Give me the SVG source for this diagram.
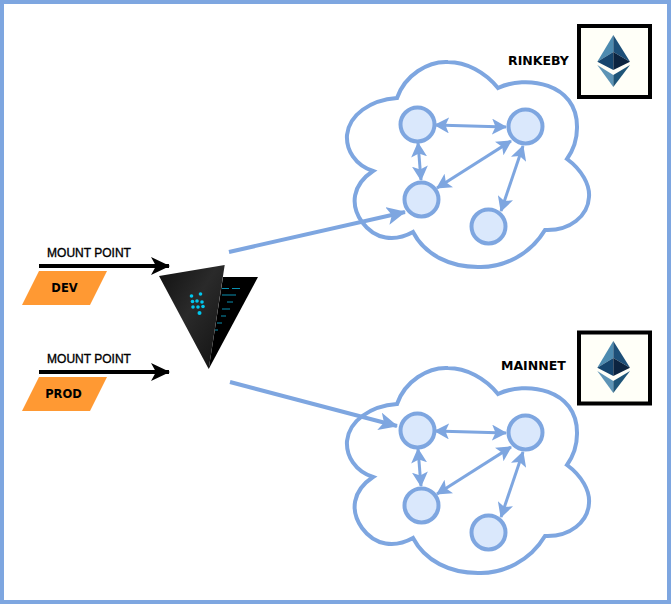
<svg xmlns="http://www.w3.org/2000/svg" width="671" height="604" viewBox="0 0 671 604">
<style>
.b{fill:none;stroke:#7ea6e0;stroke-width:4}
.c{fill:none;stroke:#7ea6e0;stroke-width:4}
.n{fill:#dae8fc;stroke:#7ea6e0;stroke-width:4}
.e{fill:none;stroke:#7ea6e0;stroke-width:3;marker-start:url(#hs);marker-end:url(#he)}
.l{fill:none;stroke:#7ea6e0;stroke-width:4;marker-end:url(#he2)}
.k{fill:none;stroke:#000;stroke-width:4;marker-end:url(#ka)}
.m{font:12px "Liberation Sans",Arial,sans-serif;fill:#000;stroke:#000;stroke-width:.35}
.t{font:bold 11.500px "DejaVu Sans",Verdana,sans-serif;fill:#000}
.w{font:bold 12.500px "DejaVu Sans",Verdana,sans-serif;fill:#000}
.o{fill:#ff9933}
.x{fill:#fffff8;stroke:#000;stroke-width:4}
.d{fill:#00c8ef}
.s{stroke:#0a8fb0;stroke-width:1.100}
</style>
<defs>
<marker id="he" viewBox="0 0 15 16" refX="14" refY="8" markerWidth="15" markerHeight="16" markerUnits="userSpaceOnUse" orient="auto"><path d="M0 0L15 8L0 16L3.500 8Z" fill="#7ea6e0"/></marker>
<marker id="hs" viewBox="0 0 15 16" refX="1" refY="8" markerWidth="15" markerHeight="16" markerUnits="userSpaceOnUse" orient="auto"><path d="M15 0L0 8L15 16L11.500 8Z" fill="#7ea6e0"/></marker>
<marker id="he2" viewBox="0 0 19 18" refX="18" refY="9" markerWidth="19" markerHeight="18" markerUnits="userSpaceOnUse" orient="auto"><path d="M0 0L19 9L0 18L4.500 9Z" fill="#7ea6e0"/></marker>
<marker id="ka" viewBox="0 0 19 18" refX="18" refY="9" markerWidth="19" markerHeight="18" markerUnits="userSpaceOnUse" orient="auto"><path d="M0 0L19 9L0 18L5 9Z" fill="#000"/></marker>
<linearGradient id="v1" x1="0" y1="0" x2="1" y2="1"><stop offset="0" stop-color="#111"/><stop offset=".45" stop-color="#2a2a2a"/><stop offset="1" stop-color="#111"/></linearGradient>
<path id="cloud" d="M397 98C405 75 428 61 448 62C466 62 485 72 498 88C525 75 578 82 577 128C577 138 574 149 567 159C582 170 590 185 589 197C588 216 570 231 545 230C530 255 503 268 478 267C450 267 425 255 413 232C395 242 375 240 362 222C350 205 352 185 373 171C355 165 346 150 347 135C349 115 370 100 397 98Z"/>
<g id="eth">
<path d="M613.300 35V52L597.300 61.700Z" fill="#4d8bb0"/>
<path d="M613.300 35V52L630 61.700Z" fill="#1d4f78"/>
<path d="M597.300 61.700L613.300 52V70Z" fill="#15456e"/>
<path d="M630 61.700L613.300 52V70Z" fill="#0c2440"/>
<path d="M597.300 65L613.300 75V87Z" fill="#5d94b6"/>
<path d="M630 65L613.300 75V87Z" fill="#1f5578"/>
</g>
</defs>
<rect id="frame" x="2" y="2" width="667" height="600" class="b"/>
<g id="cloud-rinkeby"><use href="#cloud" class="c"/></g>
<g id="cloud-mainnet"><use href="#cloud" y="306" class="c"/></g>
<g id="connectors">
<path class="l" d="M229 252L405 212"/>
<path class="l" d="M230 382L397 426"/>
<path class="k" d="M39 266H169"/>
<path class="k" d="M39 372H169"/>
<path class="e" d="M435 125L506 127"/>
<path class="e" d="M418 143L421 180"/>
<path class="e" d="M437 188L511 141"/>
<path class="e" d="M523 146L501 211"/>
<path class="e" d="M435 431L506 433"/>
<path class="e" d="M418 449L421 486"/>
<path class="e" d="M437 494L511 447"/>
<path class="e" d="M523 452L501 517"/>
</g>
<g id="n1"><circle cx="417.500" cy="124.500" r="17" class="n"/></g>
<g id="n2"><circle cx="525.500" cy="126.500" r="17" class="n"/></g>
<g id="n3"><circle cx="421.500" cy="199.500" r="17" class="n"/></g>
<g id="n4"><circle cx="488.500" cy="226.500" r="17" class="n"/></g>
<g id="n5"><circle cx="417.500" cy="430.500" r="17" class="n"/></g>
<g id="n6"><circle cx="525.500" cy="432.500" r="17" class="n"/></g>
<g id="n7"><circle cx="421.500" cy="505.500" r="17" class="n"/></g>
<g id="n8"><circle cx="488.500" cy="532.500" r="17" class="n"/></g>
<g id="vault">
<path d="M223 277H258L208.700 369Z" fill="#000"/>
<path d="M159 276L224.700 265L208.700 369Z" fill="url(#v1)"/>
<g class="d"><circle cx="191.500" cy="296" r="1.800"/><circle cx="200.500" cy="294" r="1.800"/><circle cx="192.500" cy="301.500" r="1.800"/><circle cx="197" cy="301" r="1.800"/><circle cx="202" cy="302" r="1.800"/><circle cx="193" cy="307" r="1.800"/><circle cx="198" cy="307" r="1.800"/><circle cx="203" cy="306.500" r="1.800"/><circle cx="199.500" cy="313" r="2"/></g>
<path class="s" d="M222 288.500H229M232 288.500H240M222 295H236M227 302H233M222 309H230M221 316H226M217 323H222M215 330H218"/>
</g>
<g id="dev"><path d="M22 305L39 271H107L90 305Z" class="o"/><text class="t" x="64.500" y="292" text-anchor="middle">DEV</text></g>
<g id="prod"><path d="M22 411L39 377H107L90 411Z" class="o"/><text class="t" x="63.500" y="398" text-anchor="middle">PROD</text></g>
<text class="m" x="89" y="257" text-anchor="middle">MOUNT POINT</text>
<text class="m" x="89" y="363" text-anchor="middle">MOUNT POINT</text>
<g id="rinkeby"><text class="w" x="508" y="65">RINKEBY</text><rect x="579" y="26" width="71" height="71" class="x"/><use href="#eth"/></g>
<g id="mainnet"><text class="w" x="501" y="370">MAINNET</text><rect x="579" y="332.500" width="71" height="71" class="x"/><use href="#eth" y="306"/></g>
</svg>
